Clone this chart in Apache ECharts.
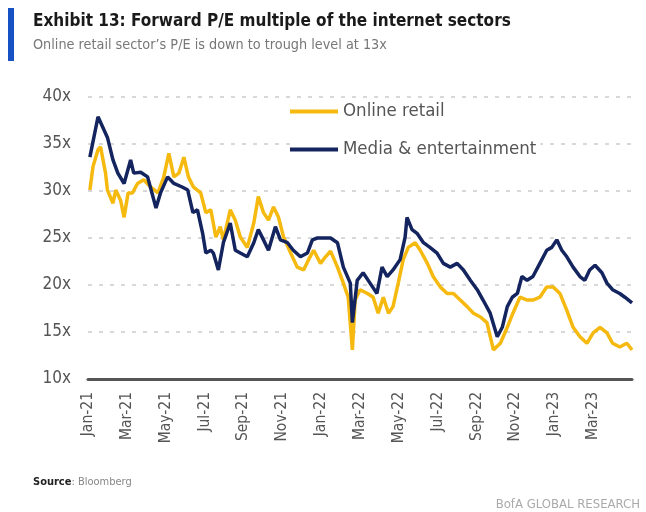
<!DOCTYPE html>
<html>
<head>
<meta charset="utf-8">
<script src="https://cdn.jsdelivr.net/npm/echarts@6/dist/echarts.min.js"></script>
<style>
html,body{margin:0;padding:0;background:#fff;}
#chart{width:646px;height:512px;}
</style>
</head>
<body>
<div id="chart"></div>
<script>
// ---- Data ----
const xTickLabels = ['Jan-21','Mar-21','May-21','Jul-21','Sep-21','Nov-21','Jan-22','Mar-22','May-22','Jul-22','Sep-22','Nov-22','Jan-23','Mar-23'];
const yTicks = [10, 15, 20, 25, 30, 35, 40];

const retailDates = ['2021-01-04','2021-01-09','2021-01-17','2021-01-21','2021-01-29','2021-02-01','2021-02-09','2021-02-13','2021-02-20','2021-02-25','2021-03-03','2021-03-10','2021-03-18','2021-03-28','2021-04-08','2021-04-19','2021-04-28','2021-05-06','2021-05-14','2021-05-22','2021-05-30','2021-06-06','2021-06-14','2021-06-25','2021-07-03','2021-07-11','2021-07-19','2021-07-26','2021-07-31','2021-08-11','2021-08-19','2021-08-27','2021-09-07','2021-09-17','2021-09-24','2021-10-02','2021-10-10','2021-10-18','2021-10-26','2021-11-03','2021-11-14','2021-11-24','2021-12-04','2021-12-12','2021-12-20','2021-12-31','2022-01-08','2022-01-16','2022-01-27','2022-02-05','2022-02-12','2022-02-18','2022-02-22','2022-03-01','2022-03-13','2022-03-22','2022-03-30','2022-04-07','2022-04-15','2022-04-22','2022-04-30','2022-05-08','2022-05-16','2022-05-27','2022-06-04','2022-06-15','2022-06-24','2022-07-05','2022-07-16','2022-07-26','2022-08-06','2022-08-17','2022-08-27','2022-09-07','2022-09-17','2022-09-27','2022-10-08','2022-10-19','2022-10-28','2022-11-08','2022-11-19','2022-11-28','2022-12-09','2022-12-20','2022-12-30','2023-01-10','2023-01-21','2023-01-31','2023-02-10','2023-02-20','2023-03-01','2023-03-12','2023-03-23','2023-04-01','2023-04-12','2023-04-23','2023-05-01'];
const retailValues = [30.1,32.6,34.4,34.7,31.9,30.1,28.7,30.1,29.0,27.2,29.8,29.8,30.8,31.2,30.4,29.8,31.5,34.0,31.5,31.9,33.6,31.5,30.4,29.8,27.7,28.0,25.1,26.2,24.8,28.0,26.9,25.1,24.0,26.6,29.4,27.7,26.9,28.3,27.2,25.1,23.4,21.9,21.6,22.7,23.7,22.3,23.0,23.6,21.9,20.2,18.7,13.1,18.4,19.5,19.1,18.7,17.0,18.7,17.0,17.7,20.2,22.7,24.0,24.5,23.7,22.3,20.9,19.8,19.1,19.1,18.4,17.7,17.0,16.6,16.0,13.1,13.8,15.5,17.0,18.7,18.4,18.4,18.7,19.8,19.8,19.1,17.3,15.5,14.5,13.8,14.9,15.5,14.9,13.8,13.4,13.8,13.1];

const mediaDates = ['2021-01-04','2021-01-17','2021-02-01','2021-02-09','2021-02-16','2021-02-25','2021-03-07','2021-03-12','2021-03-23','2021-04-03','2021-04-16','2021-04-23','2021-05-04','2021-05-14','2021-05-28','2021-06-05','2021-06-13','2021-06-20','2021-06-28','2021-07-03','2021-07-11','2021-07-15','2021-07-23','2021-07-31','2021-08-11','2021-08-19','2021-08-27','2021-09-07','2021-09-17','2021-09-24','2021-10-02','2021-10-10','2021-10-21','2021-10-29','2021-11-09','2021-11-18','2021-11-29','2021-12-10','2021-12-18','2021-12-26','2022-01-05','2022-01-16','2022-01-27','2022-02-05','2022-02-15','2022-02-18','2022-02-25','2022-03-06','2022-03-17','2022-03-28','2022-04-05','2022-04-13','2022-04-22','2022-05-03','2022-05-11','2022-05-14','2022-05-22','2022-05-30','2022-06-09','2022-06-19','2022-06-30','2022-07-10','2022-07-21','2022-08-01','2022-08-11','2022-08-22','2022-09-02','2022-09-11','2022-09-22','2022-10-03','2022-10-11','2022-10-19','2022-10-27','2022-11-04','2022-11-11','2022-11-19','2022-11-28','2022-12-09','2022-12-20','2022-12-28','2023-01-05','2023-01-13','2023-01-21','2023-01-31','2023-02-10','2023-02-17','2023-02-24','2023-03-04','2023-03-15','2023-03-23','2023-04-01','2023-04-12','2023-04-20','2023-05-01'];
const mediaValues = [33.6,37.9,35.7,33.3,31.9,30.8,33.3,31.9,32.0,31.5,28.2,29.8,31.5,30.8,30.4,30.1,27.7,28.0,25.5,23.4,23.7,23.4,21.6,24.5,26.6,23.7,23.4,23.0,24.5,25.9,24.8,23.7,26.2,24.8,24.5,23.7,23.0,23.4,24.8,25.0,25.0,25.0,24.5,21.9,20.2,16.0,20.5,21.3,20.2,19.1,21.9,20.9,21.6,22.7,25.1,27.2,25.9,25.5,24.5,24.0,23.4,22.3,21.9,22.3,21.6,20.5,19.5,18.4,17.0,14.5,15.5,17.7,18.7,19.1,20.9,20.5,20.9,22.3,23.7,24.0,24.8,23.7,23.0,21.9,20.9,20.5,21.6,22.1,21.3,20.2,19.5,19.1,18.7,18.1];

// months elapsed since 1 Jan 2021 (axis unit)
function monthsSince(d) {
  const [y, m, day] = d.split('-').map(Number);
  const dim = new Date(y, m, 0).getDate();
  return (y - 2021) * 12 + (m - 1) + (day - 1) / dim;
}
function pairs(dates, vals) { return dates.map((d, i) => [monthsSince(d), vals[i]]); }

const FONT = '"Liberation Sans Narrow", "DejaVu Sans Condensed", "Liberation Sans", sans-serif';
const YELLOW = '#F5B90F';
const NAVY = '#14245E';

const chart = echarts.init(document.getElementById('chart'), null, { renderer: 'canvas' });
chart.setOption({
  animation: false,
  backgroundColor: '#fff',
  graphic: [
    { type: 'rect', left: 8, top: 8, shape: { width: 6, height: 53 }, style: { fill: '#1652C4' } },
    { type: 'text', left: 33, top: 13, style: { text: 'Exhibit 13: Forward P/E multiple of the internet sectors', font: 'bold 17px ' + FONT, fill: '#1a1a1a' } },
    { type: 'text', left: 33, top: 38, style: { text: 'Online retail sector\u2019s P/E is down to trough level at 13x', font: '14.3px ' + FONT, fill: '#777' } },
    { type: 'text', left: 33, top: 477, style: { rich: { b: { font: 'bold 11px ' + FONT, fill: '#222' }, n: { font: '11px ' + FONT, fill: '#888' } }, text: '{b|Source}{n|: Bloomberg}' } },
    { type: 'text', right: 6, top: 498, style: { text: 'BofA GLOBAL RESEARCH', font: '13px ' + FONT, fill: '#aaa' } }
  ],
  legend: {
    orient: 'vertical',
    left: 290, top: 100,
    itemWidth: 48, itemHeight: 4, itemGap: 19,
    icon: 'rect',
    backgroundColor: '#fff',
    padding: [2, 4, 2, 0],
    textStyle: { fontFamily: FONT, fontSize: 18.5, color: '#555' },
    data: ['Online retail', 'Media & entertainment']
  },
  grid: { left: 88, right: 14, top: 97, bottom: 133, containLabel: false },
  xAxis: {
    type: 'value', min: 0, max: 28, interval: 2,
    axisLine: { show: true, onZero: false, lineStyle: { color: '#555', width: 3 } },
    axisTick: { show: false },
    splitLine: { show: false },
    axisLabel: {
      rotate: 90, margin: 13, color: '#555', fontFamily: FONT, fontSize: 15.5,
      showMaxLabel: false,
      formatter: v => xTickLabels[Math.round(v / 2)] || ''
    }
  },
  yAxis: {
    type: 'value', min: yTicks[0], max: yTicks[yTicks.length - 1], interval: 5,
    axisLine: { show: false }, axisTick: { show: false },
    splitLine: { show: true, lineStyle: { color: '#CCCCCC', type: [4, 7], width: 1.5 } },
    axisLabel: { margin: 17, color: '#555', fontFamily: FONT, fontSize: 17, formatter: v => v + 'x' }
  },
  series: [
    { name: 'Online retail', type: 'line', data: pairs(retailDates, retailValues), showSymbol: false, symbol: 'none', z: 3, lineStyle: { color: YELLOW, width: 3.5 }, itemStyle: { color: YELLOW } },
    { name: 'Media & entertainment', type: 'line', data: pairs(mediaDates, mediaValues), showSymbol: false, symbol: 'none', z: 4, lineStyle: { color: NAVY, width: 3.5 }, itemStyle: { color: NAVY } }
  ]
});
</script>
</body>
</html>
